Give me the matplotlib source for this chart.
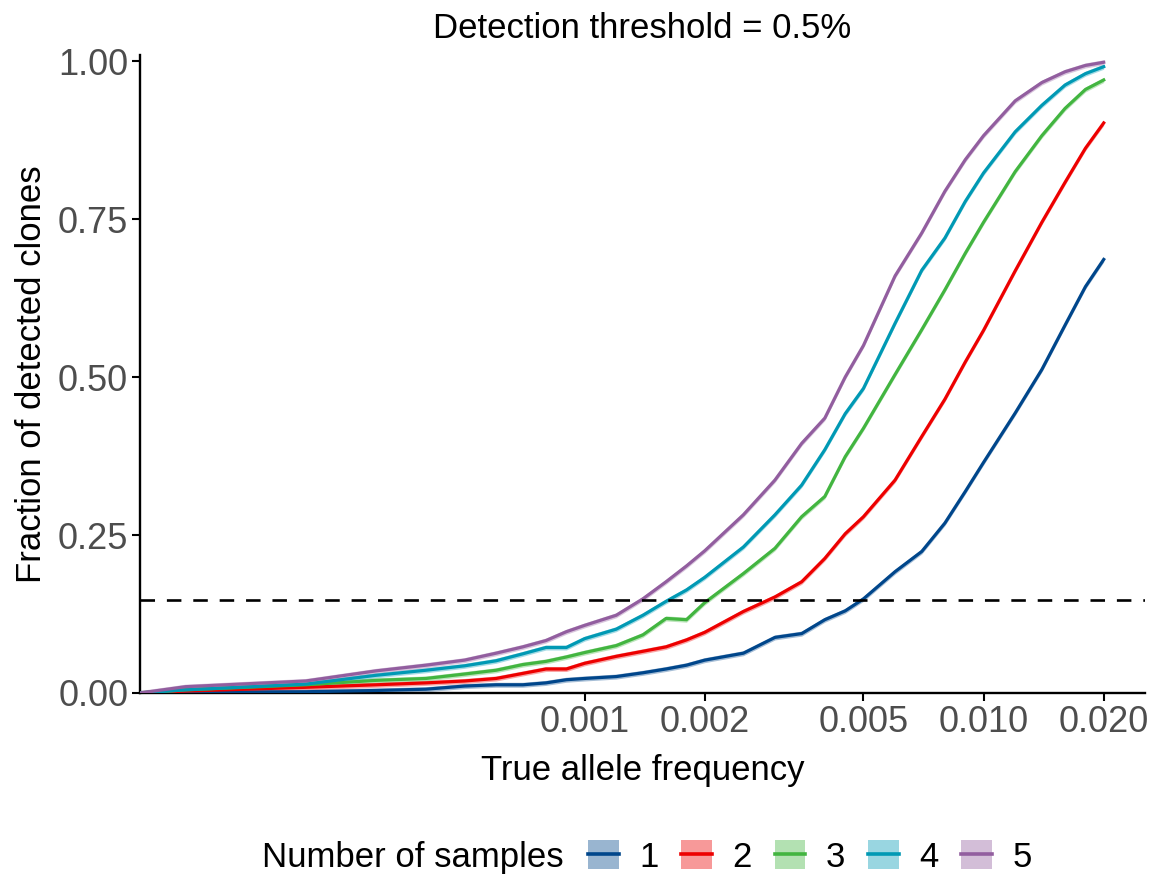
import matplotlib.pyplot as plt
from matplotlib.patches import Patch
from matplotlib.lines import Line2D
from matplotlib.legend_handler import HandlerTuple
from matplotlib.ticker import FixedLocator, NullLocator

# Données
frequences = [1e-4, 2e-4, 3e-4, 4e-4, 5e-4, 6e-4, 7e-4, 8e-4, 9e-4, 1e-3,
               1.2e-3, 1.4e-3, 1.6e-3, 1.8e-3, 2e-3, 2.5e-3, 3e-3, 3.5e-3, 4e-3, 4.5e-3,
               5e-3, 6e-3, 7e-3, 8e-3, 9e-3, 1e-2, 1.2e-2, 1.4e-2, 1.6e-2, 1.8e-2, 2e-2]

fraction_1 = [0.001, 0.002, 0.004, 0.006, 0.011, 0.013, 0.013, 0.016, 0.021, 0.023,
              0.026, 0.032, 0.038, 0.044, 0.052, 0.063, 0.088, 0.094, 0.116, 0.130,
              0.149, 0.192, 0.224, 0.269, 0.319, 0.365, 0.443, 0.512, 0.582, 0.643, 0.686]
fraction_2 = [0.003, 0.009, 0.013, 0.016, 0.019, 0.023, 0.031, 0.038, 0.038, 0.047,
              0.058, 0.066, 0.073, 0.084, 0.096, 0.129, 0.152, 0.176, 0.213, 0.252,
              0.279, 0.337, 0.406, 0.465, 0.524, 0.574, 0.668, 0.745, 0.808, 0.862, 0.902]
fraction_3 = [0.005, 0.013, 0.020, 0.023, 0.030, 0.036, 0.045, 0.050, 0.057, 0.064,
              0.075, 0.092, 0.118, 0.116, 0.143, 0.189, 0.229, 0.279, 0.311, 0.374,
              0.419, 0.504, 0.575, 0.638, 0.696, 0.745, 0.825, 0.882, 0.925, 0.955, 0.970]
fraction_4 = [0.005, 0.014, 0.028, 0.036, 0.043, 0.051, 0.062, 0.072, 0.072, 0.086,
              0.101, 0.123, 0.145, 0.163, 0.183, 0.231, 0.282, 0.329, 0.385, 0.442,
              0.482, 0.585, 0.669, 0.720, 0.778, 0.823, 0.888, 0.930, 0.962, 0.980, 0.991]
fraction_5 = [0.010, 0.019, 0.035, 0.044, 0.052, 0.063, 0.073, 0.083, 0.097, 0.107,
              0.123, 0.149, 0.176, 0.201, 0.225, 0.282, 0.337, 0.395, 0.435, 0.500,
              0.550, 0.660, 0.728, 0.794, 0.844, 0.882, 0.937, 0.966, 0.983, 0.993, 0.998]

nb_echantillons = ['1', '2', '3', '4', '5']
demi_largeur_ic = [0.004, 0.004, 0.004, 0.004, 0.004]
seuil_horizontal = 0.147

graduations_x = [0.001, 0.002, 0.005, 0.010, 0.020]
etiquettes_x = ['0.001', '0.002', '0.005', '0.010', '0.020']
graduations_y = [0.0, 0.25, 0.5, 0.75, 1.0]
etiquettes_y = ['0.00', '0.25', '0.50', '0.75', '1.00']

# Style
COULEURS = ['#00468B', '#ED0000', '#42B540', '#0099B4', '#925E9F']
plt.rcParams['font.family'] = ['Liberation Sans', 'DejaVu Sans']

LARGEUR, HAUTEUR = 1149, 874
fig = plt.figure(figsize=(LARGEUR / 100, HAUTEUR / 100), dpi=100)

# Position du panneau en pixels
gauche, droite, haut, bas = 140, 1145, 55, 693
ax = fig.add_axes([gauche / LARGEUR, 1 - bas / HAUTEUR,
                   (droite - gauche) / LARGEUR, (bas - haut) / HAUTEUR])

ax.set_xscale('log')
x_min = 10 ** -4.1143
x_max = 10 ** -1.5955
ax.set_xlim(x_min, x_max)
ax.set_ylim(0, 1.0095)

series = [fraction_1, fraction_2, fraction_3, fraction_4, fraction_5]
for valeurs, couleur, demi in zip(series, COULEURS, demi_largeur_ic):
    # le premier point (x = 0) tombe sur le bord gauche en échelle log
    xs = [x_min] + frequences
    ys = [0.0] + valeurs
    bas_ic = [max(v - demi, 0) for v in ys]
    haut_ic = [v + demi for v in ys]
    ax.fill_between(xs, bas_ic, haut_ic, color=couleur, alpha=0.35, lw=0, zorder=2)
    ax.plot(xs, ys, color=couleur, lw=2.3, zorder=3, solid_joinstyle='round')

ax.axhline(seuil_horizontal, color='black', lw=1.9, dashes=(5.5, 4.5), zorder=4)

# Axes
for cote in ['top', 'right']:
    ax.spines[cote].set_visible(False)
for cote in ['left', 'bottom']:
    ax.spines[cote].set_linewidth(1.7)

ax.xaxis.set_major_locator(FixedLocator(graduations_x))
ax.xaxis.set_minor_locator(NullLocator())
ax.set_xticklabels(etiquettes_x)
ax.set_yticks(graduations_y)
ax.set_yticklabels(etiquettes_y)
ax.tick_params(axis='both', length=5.5, width=1.5, labelsize=26, labelcolor='#4D4D4D', pad=3)

ax.set_xlabel('True allele frequency', fontsize=25, labelpad=10)
ax.set_ylabel('Fraction of detected clones', fontsize=25, labelpad=7)
ax.set_title('Detection threshold = 0.5%', fontsize=25, pad=12)

# Légende
poignees = [(Patch(facecolor=c, alpha=0.4, lw=0), Line2D([], [], color=c, lw=2.6)) for c in COULEURS]
fig.text(262 / LARGEUR, 1 - 857 / HAUTEUR, 'Number of samples', fontsize=25, va='center', ha='left')
fig.legend(poignees, nb_echantillons, handler_map={tuple: HandlerTuple(ndivide=1)},
           loc='center left', bbox_to_anchor=(588 / LARGEUR, 1 - 857 / HAUTEUR),
           ncol=5, frameon=False, fontsize=25, handlelength=0.88, handleheight=0.9,
           handletextpad=0.6, columnspacing=0.65, borderaxespad=0, borderpad=0)

fig.savefig('out.png', dpi=100)
